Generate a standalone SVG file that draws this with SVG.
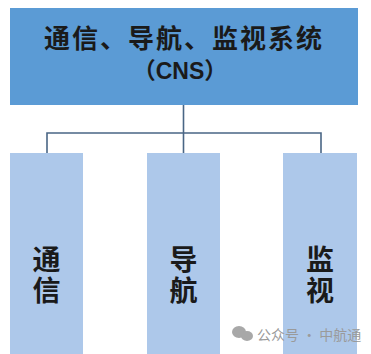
<svg xmlns="http://www.w3.org/2000/svg" width="371" height="354" viewBox="0 0 371 354">
<style>
.t{font-family:"Liberation Sans","Noto Sans CJK SC",sans-serif;font-weight:bold;fill:#1a1a1a;text-anchor:middle}
.sub{fill:#adc8ea}
.ln{stroke:#4a6685;stroke-width:1.6;fill:none}
.wm{font-family:"Noto Sans CJK SC",sans-serif;fill:#9a9a9a;font-size:14px}
</style>
<rect width="371" height="354" fill="#ffffff"/>
<g id="connectors">
<path class="ln" d="M183.5 105 V133 M47 153 V133 H321 V153 M183.5 133 V153"/>
</g>
<g id="root">
<rect x="10" y="8" width="348" height="97" fill="#5b9bd5"/>
<text class="t" x="184" y="48" font-size="26" letter-spacing="2">通信、导航、监视系统</text>
<text class="t" x="180" y="79" font-size="23">（CNS）</text>
</g>
<g id="comm">
<rect class="sub" x="10" y="153" width="73" height="201"/>
<text class="t" x="46.5" y="270" font-size="28">通</text>
<text class="t" x="46.5" y="301" font-size="28">信</text>
</g>
<g id="nav">
<rect class="sub" x="147" y="153" width="73" height="201"/>
<text class="t" x="183.5" y="270" font-size="28">导</text>
<text class="t" x="183.5" y="301" font-size="28">航</text>
</g>
<g id="surv">
<rect class="sub" x="283" y="153" width="74" height="201"/>
<text class="t" x="320" y="270" font-size="28">监</text>
<text class="t" x="320" y="301" font-size="28">视</text>
</g>
<g id="watermark">
<ellipse cx="239" cy="332" rx="7" ry="6" fill="#a8a8a8"/>
<ellipse cx="247" cy="336" rx="6" ry="5" fill="#a8a8a8"/>
<text class="wm" x="257" y="340">公众号 · 中航通</text>
</g>
</svg>
